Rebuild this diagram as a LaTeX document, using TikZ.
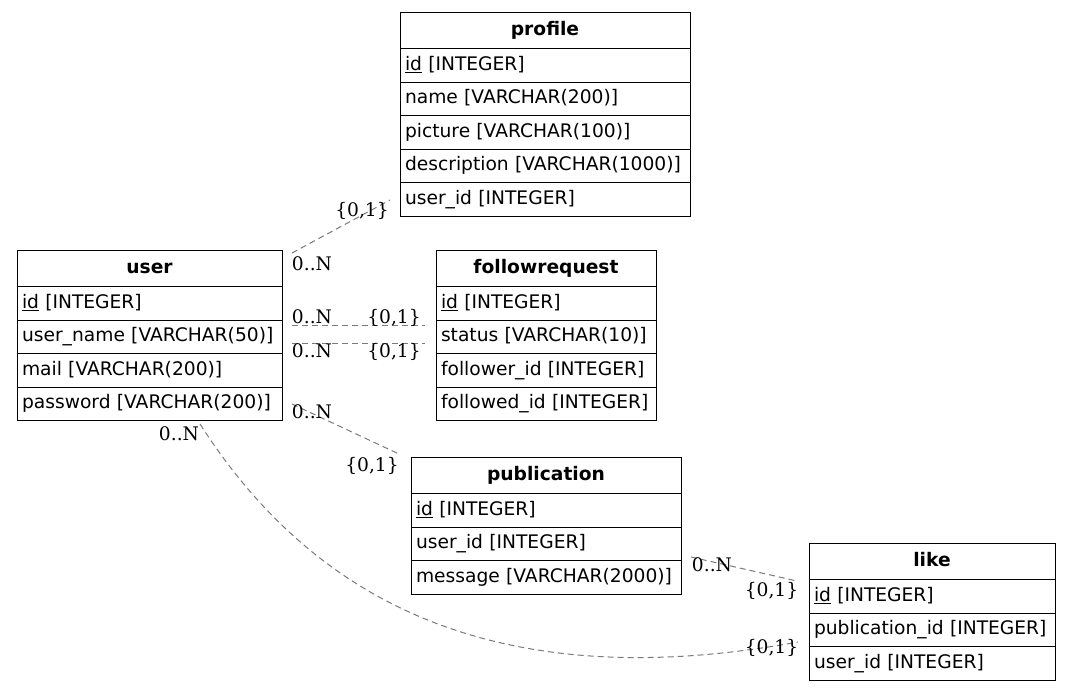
\documentclass[tikz,border=0pt]{standalone}
\usepackage{fontspec}
\newfontfamily\ertabfam{DejaVu Sans}
\newfontfamily\erlblfam{DejaVu Serif}
\newcommand\ertab{\ertabfam\fontsize{18.67}{22}\selectfont}
\newcommand\erhead{\ertabfam\bfseries\fontsize{18.67}{22}\selectfont}
\newcommand\erlbl{\erlblfam\fontsize{18.67}{22}\selectfont}
\definecolor{relgray}{HTML}{7A7A7A}
\begin{document}
\begin{tikzpicture}[x=1pt,y=-1pt,
  cell/.style={draw=black, line width=1pt, anchor=north west, minimum height=33.6pt,
    inner xsep=5pt, inner ysep=0pt, outer sep=0pt, text height=14pt, text depth=4.5pt,
    text width=#1, align=left, font=\ertab},
  hdr/.style={cell=#1, minimum height=36.5pt, align=center, font=\erhead},
  rel/.style={draw=relgray, line width=1pt, dash pattern=on 6pt off 4pt},
  card/.style={font=\erlbl, anchor=base, inner sep=0pt, text=black}]
\useasboundingbox (0,0) rectangle (1071,691);
% profile
\node[hdr=280pt] (profile) at (400,12) {profile};
\node[cell=280pt] (profile-id) at (profile.south west) {\underline{id} [INTEGER]};
\node[cell=280pt] (profile-name) at (profile-id.south west) {name [VARCHAR(200)]};
\node[cell=280pt] (profile-picture) at (profile-name.south west) {picture [VARCHAR(100)]};
\node[cell=280pt] (profile-desc) at (profile-picture.south west) {description [VARCHAR(1000)]};
\node[cell=280pt] (profile-uid) at (profile-desc.south west) {user\_id [INTEGER]};
% user
\node[hdr=255pt] (user) at (17,250) {user};
\node[cell=255pt] (user-id) at (user.south west) {\underline{id} [INTEGER]};
\node[cell=255pt] (user-name) at (user-id.south west) {user\_name [VARCHAR(50)]};
\node[cell=255pt] (user-mail) at (user-name.south west) {mail [VARCHAR(200)]};
\node[cell=255pt] (user-pw) at (user-mail.south west) {password [VARCHAR(200)]};
% followrequest
\node[hdr=210pt] (follow) at (436,250) {followrequest};
\node[cell=210pt] (follow-id) at (follow.south west) {\underline{id} [INTEGER]};
\node[cell=210pt] (follow-status) at (follow-id.south west) {status [VARCHAR(10)]};
\node[cell=210pt] (follow-er) at (follow-status.south west) {follower\_id [INTEGER]};
\node[cell=210pt] (follow-ed) at (follow-er.south west) {followed\_id [INTEGER]};
% publication
\node[hdr=260pt] (pub) at (411,457) {publication};
\node[cell=260pt] (pub-id) at (pub.south west) {\underline{id} [INTEGER]};
\node[cell=260pt] (pub-uid) at (pub-id.south west) {user\_id [INTEGER]};
\node[cell=260pt] (pub-msg) at (pub-uid.south west) {message [VARCHAR(2000)]};
% like
\node[hdr=236pt] (like) at (809,543) {like};
\node[cell=236pt] (like-id) at (like.south west) {\underline{id} [INTEGER]};
\node[cell=236pt] (like-pid) at (like-id.south west) {publication\_id [INTEGER]};
\node[cell=236pt] (like-uid) at (like-pid.south west) {user\_id [INTEGER]};
% connector ends
\coordinate (e1a) at (292,253); \coordinate (e1b) at (390,200);
\coordinate (e2a) at (292,325); \coordinate (e2b) at (425,325);
\coordinate (e3a) at (292,343); \coordinate (e3b) at (425,343);
\coordinate (e4a) at (292,404); \coordinate (e4b) at (399,454);
\coordinate (e5a) at (200,424); \coordinate (e5b) at (798,642);
\coordinate (e6a) at (691,557); \coordinate (e6b) at (797,581);
% connectors
\draw[rel] (e1a) -- (e1b);
\draw[rel] (e2a) -- (e2b);
\draw[rel] (e3a) -- (e3b);
\draw[rel] (e4a) -- (e4b);
\draw[rel] (e5a) .. controls (300,580) and (470,702) .. (e5b);
\draw[rel] (e6a) -- (e6b);
% cardinalities
\node[card] (c1) at (362,216.5) {\{0,1\}};
\node[card] (c2) at (312,270) {0..N};
\node[card] (c3) at (312,323.5) {0..N};
\node[card] (c4) at (394,323.5) {\{0,1\}};
\node[card] (c5) at (312,357) {0..N};
\node[card] (c6) at (394,357) {\{0,1\}};
\node[card] (c7) at (312,418) {0..N};
\node[card] (c8) at (372,471) {\{0,1\}};
\node[card] (c9) at (179,440) {0..N};
\node[card] (c10) at (712,571.5) {0..N};
\node[card] (c11) at (771.5,596.5) {\{0,1\}};
\node[card] (c12) at (771.5,653) {\{0,1\}};
\end{tikzpicture}
\end{document}
